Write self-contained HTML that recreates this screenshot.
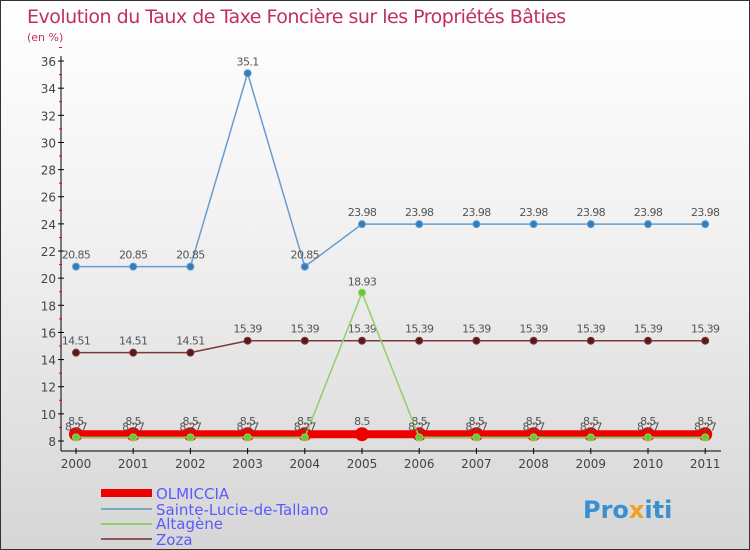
<!DOCTYPE html>
<html><head><meta charset="utf-8"><style>
body{margin:0;}
#wrap{position:relative;width:748px;height:548px;border:1px solid #333;background:linear-gradient(#fff,#f2f2f2 40%,#d6d6d6);font-family:"DejaVu Sans","Liberation Sans",sans-serif;overflow:hidden}
svg text{font-family:"DejaVu Sans","Liberation Sans",sans-serif}
</style></head><body>
<div id="wrap">
<svg id="c" width="748" height="548">
<text x="26" y="22" font-size="19" fill="#c0305e" style="letter-spacing:-0.5px">Evolution du Taux de Taxe Foncière sur les Propriétés Bâties</text>
<text x="26" y="40" font-size="11" fill="#c0305e">(en %)</text>
<g id="axes"></g><g id="series"></g>
<g>
<rect x="100" y="488" width="51" height="8" fill="#e00"/>
<text x="155" y="498" font-size="15" fill="#5a5aff">OLMICCIA</text>
<rect x="100" y="507" width="51" height="2" fill="#7aa6c8"/>
<text x="155" y="514" font-size="15" fill="#5a5aff">Sainte-Lucie-de-Tallano</text>
<rect x="100" y="522" width="51" height="2" fill="#8fd06a"/>
<text x="155" y="528" font-size="15" fill="#5a5aff">Altagène</text>
<rect x="100" y="537" width="51" height="2" fill="#8a5a5a"/>
<text x="155" y="544" font-size="15" fill="#5a5aff">Zoza</text>
</g>
<text x="582" y="517" font-size="24" font-weight="bold"><tspan fill="#3a8fd0">Pro</tspan><tspan fill="#f0a020">x</tspan><tspan fill="#3a8fd0">iti</tspan></text>
</svg>
</div>
<script>
const years=["2000","2001","2002","2003","2004","2005","2006","2007","2008","2009","2010","2011"];
const olmiccia=[8.5,8.5,8.5,8.5,8.5,8.5,8.5,8.5,8.5,8.5,8.5,8.5];
const sainteLucie=[20.85,20.85,20.85,35.1,20.85,23.98,23.98,23.98,23.98,23.98,23.98,23.98];
const altagene=[8.27,8.27,8.27,8.27,8.27,18.93,8.27,8.27,8.27,8.27,8.27,8.27];
const zoza=[14.51,14.51,14.51,15.39,15.39,15.39,15.39,15.39,15.39,15.39,15.39,15.39];
const yTicks=[8,10,12,14,16,18,20,22,24,26,28,30,32,34,36];
const NS="http://www.w3.org/2000/svg";
const X=i=>75+i*57.2;
const Y=v=>440-(v-8)*13.57;
function mk(t,a,p){const e=document.createElementNS(NS,t);for(const k in a)e.setAttribute(k,a[k]);p.appendChild(e);return e;}
const ax=document.getElementById('axes');
let l=mk('line',{x1:60,y1:55,x2:60,y2:450,stroke:'#000'},ax);


l=mk('line',{x1:60,y1:450,x2:720,y2:450,stroke:'#000'},ax);


yTicks.forEach(v=>{
 mk('line',{x1:57,y1:Y(v),x2:63,y2:Y(v),stroke:'#000'},ax);
 mk('line',{x1:58,y1:Y(v+1),x2:61,y2:Y(v+1),stroke:'#e00'},ax);
 const t=mk('text',{x:55,y:Y(v)+5,'font-size':12,'text-anchor':'end',fill:'#444'},ax);t.textContent=v;
 
 
});
years.forEach((y,i)=>{
 mk('line',{x1:X(i),y1:447,x2:X(i),y2:453,stroke:'#000'},ax);
 const t=mk('text',{x:X(i),y:467,'font-size':12,'text-anchor':'middle',fill:'#444'},ax);t.textContent=y;
 
 
});
const sg=document.getElementById('series');
function series(name,vals,color,w,r,fill,dy){
 const g=mk('g',{},sg);
 
 
 const p=mk('polyline',{points:vals.map((v,i)=>X(i)+','+Y(v)).join(' '),fill:'none',stroke:color,'stroke-width':w},g);
 vals.forEach((v,i)=>{
  const c=mk('circle',{cx:X(i),cy:Y(v),r:r,fill:fill,stroke:color,'stroke-width':1},g);
  
  
  const t=mk('text',{x:X(i),y:Y(v)-dy,'font-size':11,'text-anchor':'middle',fill:'#555','letter-spacing':'-0.6'},g);t.textContent=v;
  
  
 });
}
series('sainte-lucie',sainteLucie,'#6a9ccc',1.5,3.5,'#2f7fc0',8);
series('zoza',zoza,'#7a3a3a',1.5,3.5,'#5a1a1a',8);
series('olmiccia',olmiccia,'#e00',8,6.5,'#e00',9);
series('altagene',altagene,'#8fd06a',1.5,3.5,'#6ac830',7);
</script>
</body></html>
